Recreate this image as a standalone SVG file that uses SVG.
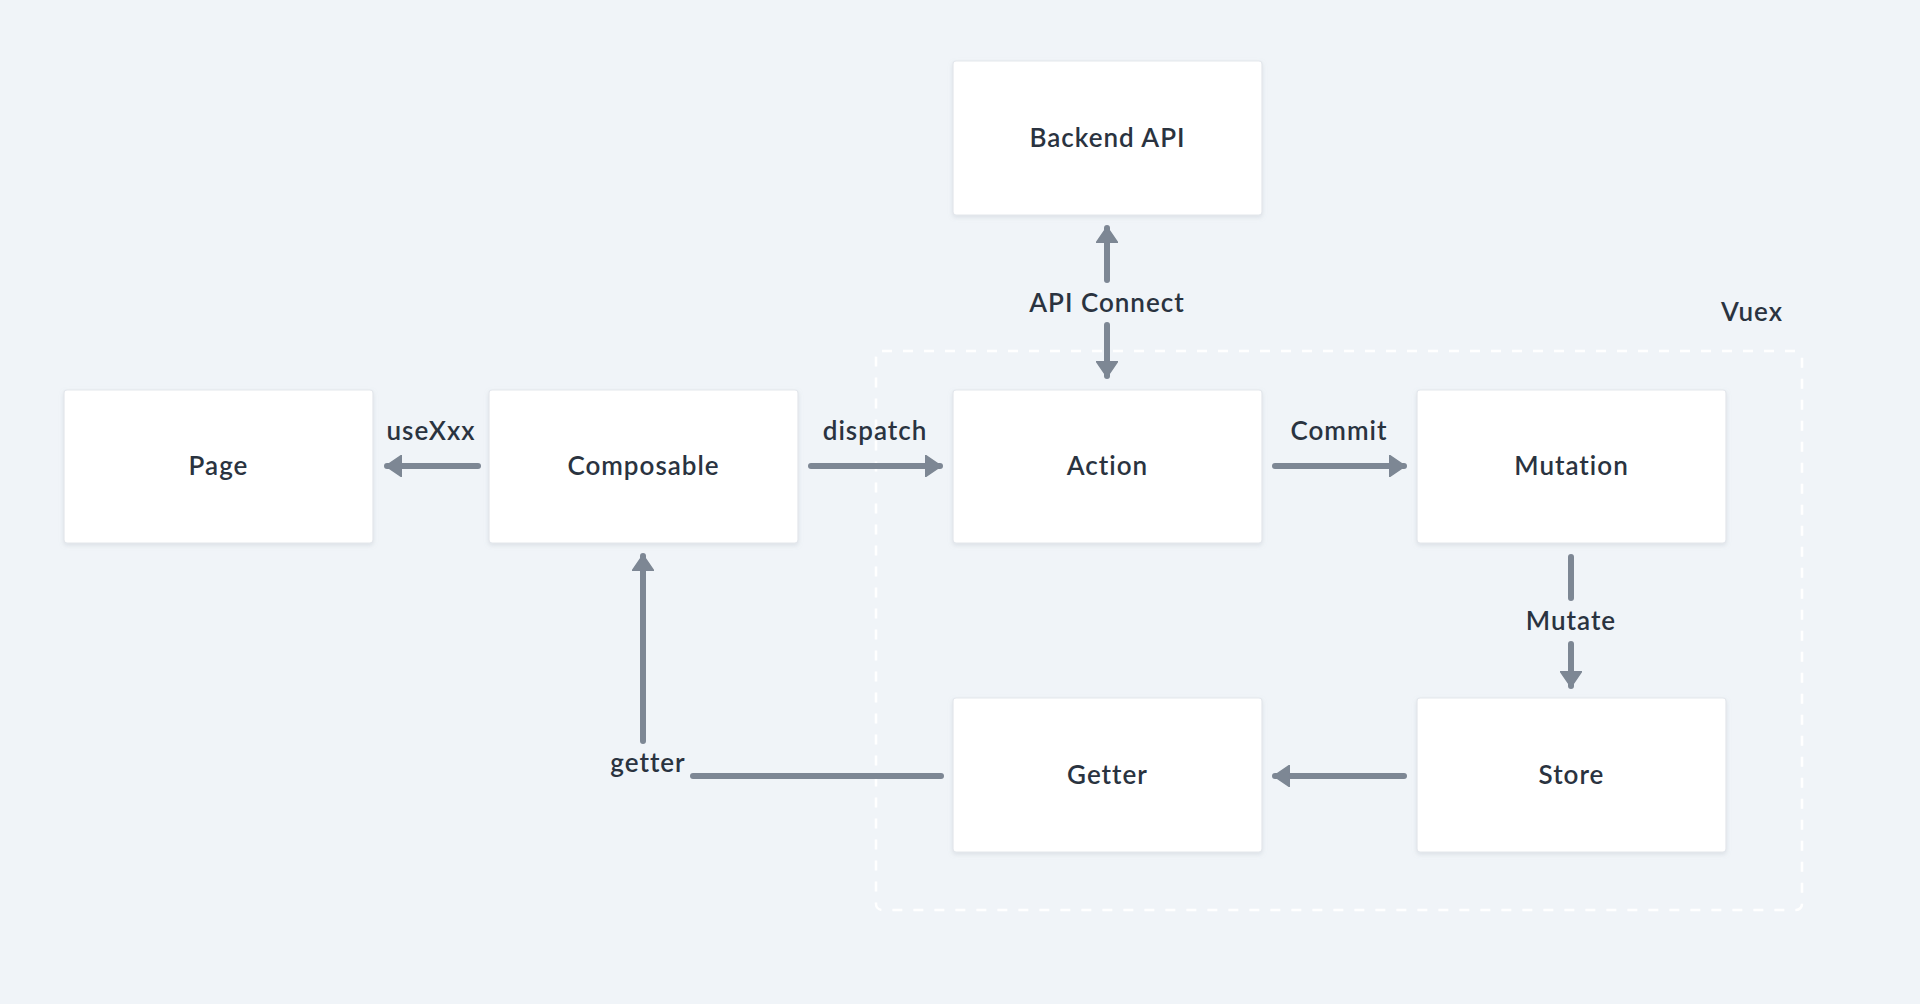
<svg xmlns="http://www.w3.org/2000/svg" width="1920" height="1004" viewBox="0 0 1920 1004">
<defs>
<style>
.node rect.box{fill:#ffffff;stroke:#e3e7ec;stroke-width:1.2;}
.lbl{font-family:Lato,"Noto Sans","Liberation Sans",sans-serif;font-size:26px;font-weight:600;fill:#2a3340;text-anchor:middle;letter-spacing:1px;}
.edge{stroke:#7d8794;stroke-width:6;stroke-linecap:round;fill:none;}
</style>
<marker id="ah" viewBox="0 0 16 22" refX="15" refY="11" markerWidth="16" markerHeight="22" markerUnits="userSpaceOnUse" orient="auto">
<path d="M0,0 L16,11 L0,22 Z" fill="#7d8794" stroke="#7d8794" stroke-width="1.5" stroke-linejoin="round"/>
</marker>
<filter id="sh" x="-5%" y="-5%" width="110%" height="115%">
<feDropShadow dx="0" dy="2" stdDeviation="2" flood-color="#9aa5b1" flood-opacity="0.25"/>
</filter>
</defs>
<rect width="1920" height="1004" fill="#f0f4f8"/>
<g id="vuex">
<rect x="876" y="351" width="926" height="559" rx="6" fill="none" stroke="#ffffff" stroke-width="2.5" stroke-dasharray="10 11"/>
<text class="lbl" x="1752" y="321">Vuex</text>
</g>
<g id="connectors">
<line class="edge" x1="478" y1="466" x2="387" y2="466" marker-end="url(#ah)"/>
<text class="lbl" x="431" y="440">useXxx</text>
<line class="edge" x1="811" y1="466" x2="940" y2="466" marker-end="url(#ah)"/>
<text class="lbl" x="875" y="440">dispatch</text>
<line class="edge" x1="1275" y1="466" x2="1404" y2="466" marker-end="url(#ah)"/>
<text class="lbl" x="1339" y="440">Commit</text>
<line class="edge" x1="1107" y1="280" x2="1107" y2="228" marker-end="url(#ah)"/>
<line class="edge" x1="1107" y1="325" x2="1107" y2="376" marker-end="url(#ah)"/>
<text class="lbl" x="1107" y="312">API Connect</text>
<line class="edge" x1="1571" y1="557" x2="1571" y2="598"/>
<line class="edge" x1="1571" y1="644" x2="1571" y2="686" marker-end="url(#ah)"/>
<text class="lbl" x="1571" y="630">Mutate</text>
<line class="edge" x1="1404" y1="776" x2="1275" y2="776" marker-end="url(#ah)"/>
<line class="edge" x1="941" y1="776" x2="693" y2="776"/>
<line class="edge" x1="643" y1="741" x2="643" y2="556" marker-end="url(#ah)"/>
<text class="lbl" x="648" y="772">getter</text>
</g>
<g id="node-backend" class="node">
<rect class="box" x="953" y="61" width="309" height="154" rx="3" filter="url(#sh)"/>
<text class="lbl" x="1107.5" y="147">Backend API</text>
</g>
<g id="node-page" class="node">
<rect class="box" x="64" y="390" width="309" height="153" rx="3" filter="url(#sh)"/>
<text class="lbl" x="218.5" y="475">Page</text>
</g>
<g id="node-composable" class="node">
<rect class="box" x="489" y="390" width="309" height="153" rx="3" filter="url(#sh)"/>
<text class="lbl" x="643.5" y="475">Composable</text>
</g>
<g id="node-action" class="node">
<rect class="box" x="953" y="390" width="309" height="153" rx="3" filter="url(#sh)"/>
<text class="lbl" x="1107.5" y="475">Action</text>
</g>
<g id="node-mutation" class="node">
<rect class="box" x="1417" y="390" width="309" height="153" rx="3" filter="url(#sh)"/>
<text class="lbl" x="1571.5" y="475">Mutation</text>
</g>
<g id="node-getter" class="node">
<rect class="box" x="953" y="698" width="309" height="154" rx="3" filter="url(#sh)"/>
<text class="lbl" x="1107.5" y="784">Getter</text>
</g>
<g id="node-store" class="node">
<rect class="box" x="1417" y="698" width="309" height="154" rx="3" filter="url(#sh)"/>
<text class="lbl" x="1571.5" y="784">Store</text>
</g>
</svg>
